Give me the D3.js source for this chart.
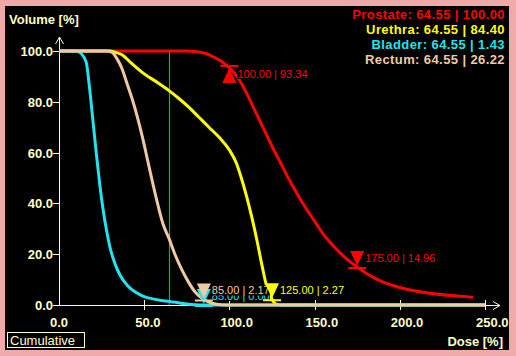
<!DOCTYPE html>
<html><head><meta charset="utf-8">
<script src="https://cdn.jsdelivr.net/npm/d3@7"></script>
<style>
html,body{margin:0;padding:0;background:#f2a9a9;}
svg{display:block;}
text{font-family:"Liberation Sans",Arial,sans-serif;}
</style></head>
<body>
<svg id="c" width="516" height="356"></svg>
<script>
// ---- data ----
const xTicks = [0, 50, 100, 150, 200, 250];
const yTicks = [0, 20, 40, 60, 80, 100];
const structures = ["Prostate", "Urethra", "Bladder", "Rectum"];
const colors = ["#ff0000", "#ffff00", "#22e4ee", "#f0c9a2"];
const legendDose = [64.55, 64.55, 64.55, 64.55];
const legendVol = [100.00, 84.40, 1.43, 26.22];
const cursorDose = 64.55;

const prostateDose = [0, 75, 80, 85, 90, 95, 100, 105, 110, 115, 120, 125, 130, 135, 140, 145, 150, 155, 160, 165, 170, 175, 180, 185, 190, 200, 210, 220, 230, 240, 243];
const prostateVol  = [100, 100, 99.8, 99.2, 97.9, 96.1, 93.34, 89.5, 83.5, 76.5, 69.5, 62.5, 56, 49.5, 43.5, 38, 33, 28, 24, 20.5, 17.5, 14.96, 12.6, 10.7, 9.1, 6.9, 5.4, 4.4, 3.7, 3.2, 3.0];
const urethraDose = [0, 30, 33, 37, 42, 50, 58, 64.55, 70, 76, 82, 88, 94, 100, 104, 107, 110, 113, 116, 119, 122, 125, 127, 130, 250];
const urethraVol  = [100, 100, 99.5, 98.5, 95.5, 91, 87.5, 84.4, 81.5, 78, 74, 70, 66, 61, 56, 50, 43, 35, 26, 16, 7, 2.27, 0.5, 0, 0];
const bladderDose = [0, 10, 13, 16, 18, 20, 22, 24, 26, 28, 30, 33, 36, 40, 45, 50, 55, 60, 64.55, 70, 75, 80, 85, 250];
const bladderVol  = [100, 100, 99, 95.5, 85, 72, 59, 47, 37, 29, 22.5, 16, 11.5, 7.8, 5, 3.3, 2.4, 1.8, 1.43, 0.9, 0.4, 0.1, 0, 0];
const rectumDose = [0, 28, 31, 34, 37, 40, 43, 46, 49, 52, 55, 58, 61, 64.55, 68, 72, 76, 80, 85, 90, 95, 100, 250];
const rectumVol  = [100, 100, 99.5, 97, 93, 87, 81, 74, 66, 57, 48, 39.5, 32, 26.22, 20, 14, 9, 5, 2.17, 0.7, 0.1, 0, 0];

// markers: structure index, dose, volume, direction
const markerStruct = [0, 0, 2, 3, 1];
const markerDose = [100.00, 175.00, 85.00, 85.00, 125.00];
const markerVol = [93.34, 14.96, 0.00, 2.17, 2.27];
const markerDir = ["up", "down", "down", "down", "down"];

// ---- drawing ----
const svg = d3.select("#c");
const axisCol = "#ffffc4";
svg.append("rect").attr("x", 5).attr("y", 6).attr("width", 504).attr("height", 344).attr("fill", "#000");

const x = d3.scaleLinear().domain([0, 250]).range([59, 485]);
const y = d3.scaleLinear().domain([0, 100]).range([305, 51]);

// axes
const ax = svg.append("g").attr("stroke", axisCol).attr("stroke-width", 1).attr("fill", "none");
ax.append("line").attr("x1", x(0)).attr("x2", 500).attr("y1", y(0) + 0.5).attr("y2", y(0) + 0.5);
ax.append("path").attr("d", `M493,${y(0) - 3.5}L500,${y(0) + 0.5}L493,${y(0) + 4.5}`);
ax.append("line").attr("x1", x(0) + 0.5).attr("x2", x(0) + 0.5).attr("y1", y(0)).attr("y2", 37);
ax.append("path").attr("d", `M${x(0) - 3.5},44L${x(0) + 0.5},37L${x(0) + 4.5},44`);
xTicks.forEach(t => {
  if (t === 0) return;
  ax.append("line").attr("x1", Math.round(x(t)) + 0.5).attr("x2", Math.round(x(t)) + 0.5).attr("y1", y(0) - 5).attr("y2", y(0) + 5);
});
yTicks.forEach(t => {
  ax.append("line").attr("x1", x(0) - 6).attr("x2", x(0) + (t === 0 ? 5 : 0)).attr("y1", Math.round(y(t)) + 0.5).attr("y2", Math.round(y(t)) + 0.5);
});
const fmt = d3.format(".1f");
svg.append("g").selectAll("text").data(xTicks).join("text")
  .attr("x", d => x(d) - 9).attr("y", 327).attr("fill", axisCol)
  .attr("font-size", 13).attr("font-weight", "bold").text(d => fmt(d));
svg.append("g").selectAll("text").data(yTicks).join("text")
  .attr("x", 53).attr("y", d => y(d) + 5).attr("text-anchor", "end").attr("fill", axisCol)
  .attr("font-size", 13).attr("font-weight", "bold").text(d => fmt(d));

svg.append("text").attr("x", 9).attr("y", 24).attr("fill", axisCol).attr("font-size", 13).attr("font-weight", "bold").text("Volume [%]");
svg.append("text").attr("x", 503).attr("y", 346).attr("text-anchor", "end").attr("fill", axisCol).attr("font-size", 13).attr("font-weight", "bold").text("Dose [%]");
svg.append("rect").attr("x", 7.5).attr("y", 332.5).attr("width", 77).attr("height", 15).attr("fill", "none").attr("stroke", axisCol);
svg.append("text").attr("x", 10).attr("y", 345).attr("fill", axisCol).attr("font-size", 13).text("Cumulative");

// cursor line
svg.append("line").attr("x1", Math.round(x(cursorDose)) + 0.5).attr("x2", Math.round(x(cursorDose)) + 0.5)
  .attr("y1", y(100)).attr("y2", y(0)).attr("stroke", "#10c010").attr("stroke-width", 1.2);

// curves
const series = [
  [prostateDose, prostateVol],
  [urethraDose, urethraVol],
  [bladderDose, bladderVol],
  [rectumDose, rectumVol]
];
const line = d3.line().x(d => x(d[0])).y(d => y(d[1])).curve(d3.curveMonotoneX);
series.forEach((s, i) => {
  const pts = s[0].map((d, j) => [d, s[1][j]]);
  svg.append("path").attr("d", line(pts)).attr("fill", "none").attr("stroke", colors[i]).attr("stroke-width", 3).attr("stroke-linejoin", "round");
});

// markers
const mfmt = d3.format(".2f");
markerDose.forEach((d, i) => {
  const c = colors[markerStruct[i]];
  const px = x(d), py = y(markerVol[i]);
  const g = svg.append("g");
  if (markerDir[i] === "up") {
    g.append("path").attr("d", `M${px},${py}L${px - 7},${py + 15}L${px + 7},${py + 15}Z`).attr("fill", c);
    g.append("line").attr("x1", px - 9).attr("x2", px + 9).attr("y1", py - 2).attr("y2", py - 2).attr("stroke", c).attr("stroke-width", 2);
  } else {
    g.append("path").attr("d", `M${px},${py - 1}L${px - 7},${py - 16}L${px + 7},${py - 16}Z`).attr("fill", c);
    g.append("line").attr("x1", px - 9).attr("x2", px + 9).attr("y1", py + 1).attr("y2", py + 1).attr("stroke", c).attr("stroke-width", 2);
  }
  const ty = markerDir[i] === "up" ? py + 10 : py - 5;
  const t = g.append("text").attr("x", px + 8).attr("y", ty).attr("fill", c).attr("font-size", 11)
    .text(mfmt(d) + " | " + mfmt(markerVol[i]));
  const bb = t.node().getBBox();
  g.insert("rect", "text").attr("x", bb.x).attr("y", bb.y + 1).attr("width", bb.width).attr("height", bb.height - 2).attr("fill", "#000");
});

// legend
structures.forEach((s, i) => {
  svg.append("text").attr("x", 505).attr("y", 19 + i * 15).attr("text-anchor", "end")
    .attr("fill", colors[i]).attr("font-size", 13).attr("font-weight", "bold").attr("letter-spacing", 0.4)
    .text(`${s}: ${legendDose[i].toFixed(2)} | ${legendVol[i].toFixed(2)}`);
});
</script>
</body></html>
